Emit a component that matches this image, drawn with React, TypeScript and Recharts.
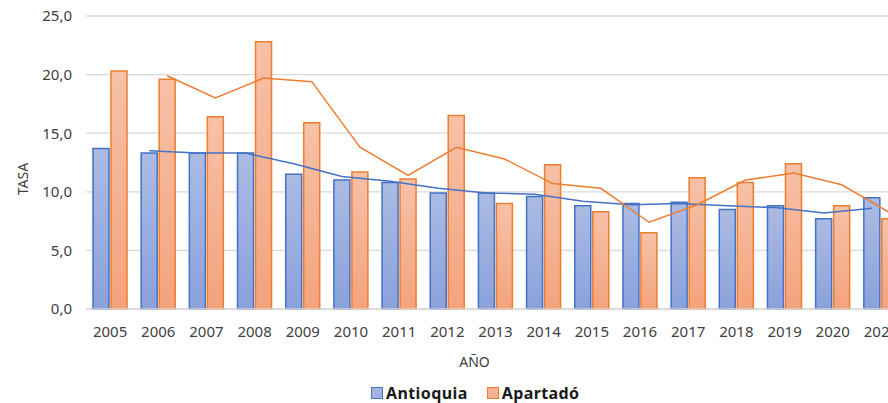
import React from 'react';
import { ComposedChart, Bar, Line, XAxis, YAxis, CartesianGrid, Legend } from 'recharts';

const years = ['2005', '2006', '2007', '2008', '2009', '2010', '2011', '2012', '2013', '2014', '2015', '2016', '2017', '2018', '2019', '2020', '2021'];
const antioquia = [13.7, 13.3, 13.3, 13.3, 11.5, 11.0, 10.8, 9.9, 9.9, 9.6, 8.8, 9.0, 9.1, 8.5, 8.8, 7.7, 9.5];
const apartado = [20.3, 19.6, 16.4, 22.8, 15.9, 11.7, 11.1, 16.5, 9.0, 12.3, 8.3, 6.5, 11.2, 10.8, 12.4, 8.8, 7.7];
const antioquiaTrend = [null, 13.5, 13.3, 13.3, 12.4, 11.3, 10.9, 10.3, 9.9, 9.8, 9.2, 8.9, 9.0, 8.8, 8.65, 8.2, 8.6];
const apartadoTrend = [null, 19.9, 18.0, 19.7, 19.4, 13.8, 11.4, 13.8, 12.8, 10.7, 10.3, 7.4, 8.9, 11.0, 11.6, 10.6, 8.2];
const yTicks = [0, 5, 10, 15, 20, 25];

const data = years.map((y, i) => ({
  year: y,
  Antioquia: antioquia[i],
  'Apartadó': apartado[i],
  antTrend: antioquiaTrend[i],
  apaTrend: apartadoTrend[i],
}));

const FONT = '"Noto Sans", sans-serif';
const BLUE = '#4472c4';
const ORANGE = '#ed7d31';

const fmt = (v: number) => v.toFixed(1).replace('.', ',');

const LegendContent = () => (
  <div style={{ display: 'flex', alignItems: 'center', fontFamily: FONT, fontWeight: 700, fontSize: 16, color: '#1a1a1a', letterSpacing: 0.4 }}>
    <span style={{ display: 'inline-block', width: 10, height: 10, background: '#a2b3df', border: `1.5px solid ${BLUE}`, marginRight: 3 }} />
    <span style={{ marginRight: 19 }}>Antioquia</span>
    <span style={{ display: 'inline-block', width: 10, height: 10, background: '#f6b292', border: `1.5px solid ${ORANGE}`, marginRight: 3 }} />
    <span>Apartadó</span>
  </div>
);

export default function App() {
  return (
    <div style={{ position: 'fixed', left: 0, top: 0, width: 888, height: 403, overflow: 'hidden', background: '#fff' }}>
      <ComposedChart
        width={920}
        height={403}
        data={data}
        margin={{ top: 16, right: 15, bottom: 12, left: 0 }}
        barGap={2}
      >
        <defs>
          <linearGradient id="gBlue" x1="0" y1="0" x2="0" y2="1">
            <stop offset="0%" stopColor="#abbbe3" />
            <stop offset="100%" stopColor="#8aa1db" />
          </linearGradient>
          <linearGradient id="gOrange" x1="0" y1="0" x2="0" y2="1">
            <stop offset="0%" stopColor="#f7c1a8" />
            <stop offset="100%" stopColor="#f4a37c" />
          </linearGradient>
        </defs>
        <CartesianGrid vertical={false} stroke="#d9d9d9" strokeWidth={1.3} />
        <XAxis
          dataKey="year"
          height={60}
          tickLine={false}
          tickSize={0}
          tickMargin={17}
          axisLine={{ stroke: '#d9d9d9', strokeWidth: 1.3 }}
          tick={{ fontFamily: FONT, fontSize: 15, fill: '#404040' }}
          interval={0}
          label={{
            content: (p: any) => {
              const vb = p.viewBox;
              return (
                <text x={vb.x + vb.width / 2 - 21} y={367} textAnchor="middle" fontFamily={FONT} fontSize={14} fill="#404040">AÑO</text>
              );
            },
          }}
        />
        <XAxis xAxisId="antLine" dataKey="year" hide scale="point" padding={{ left: 15, right: 33 }} />
        <XAxis xAxisId="apaLine" dataKey="year" hide scale="point" padding={{ left: 33, right: 15 }} />
        <YAxis
          width={86}
          domain={[0, 25]}
          ticks={yTicks}
          tickFormatter={fmt}
          axisLine={false}
          tickLine={false}
          tickSize={0}
          tickMargin={14}
          tick={{ fontFamily: FONT, fontSize: 15, fill: '#404040' }}
          label={{
            content: (p: any) => {
              const vb = p.viewBox;
              const cx = 22;
              const cy = vb.y + vb.height / 2 + 16.5;
              return (
                <text x={cx} y={cy} transform={`rotate(-90, ${cx}, ${cy})`} textAnchor="middle" dominantBaseline="central" fontFamily={FONT} fontSize={14} fill="#404040">TASA</text>
              );
            },
          }}
        />
        <Legend
          verticalAlign="bottom"
          content={LegendContent}
          wrapperStyle={{ position: 'absolute', left: 371, top: 382, width: 260, height: 22 }}
        />
        <Bar dataKey="Antioquia" barSize={16} fill="url(#gBlue)" stroke={BLUE} strokeWidth={1.5} isAnimationActive={false} />
        <Bar dataKey="Apartadó" barSize={16} fill="url(#gOrange)" stroke={ORANGE} strokeWidth={1.5} isAnimationActive={false} />
        <Line xAxisId="antLine" dataKey="antTrend" stroke={BLUE} strokeWidth={1.5} dot={false} isAnimationActive={false} legendType="none" />
        <Line xAxisId="apaLine" dataKey="apaTrend" stroke={ORANGE} strokeWidth={1.5} dot={false} isAnimationActive={false} legendType="none" />
      </ComposedChart>
    </div>
  );
}
